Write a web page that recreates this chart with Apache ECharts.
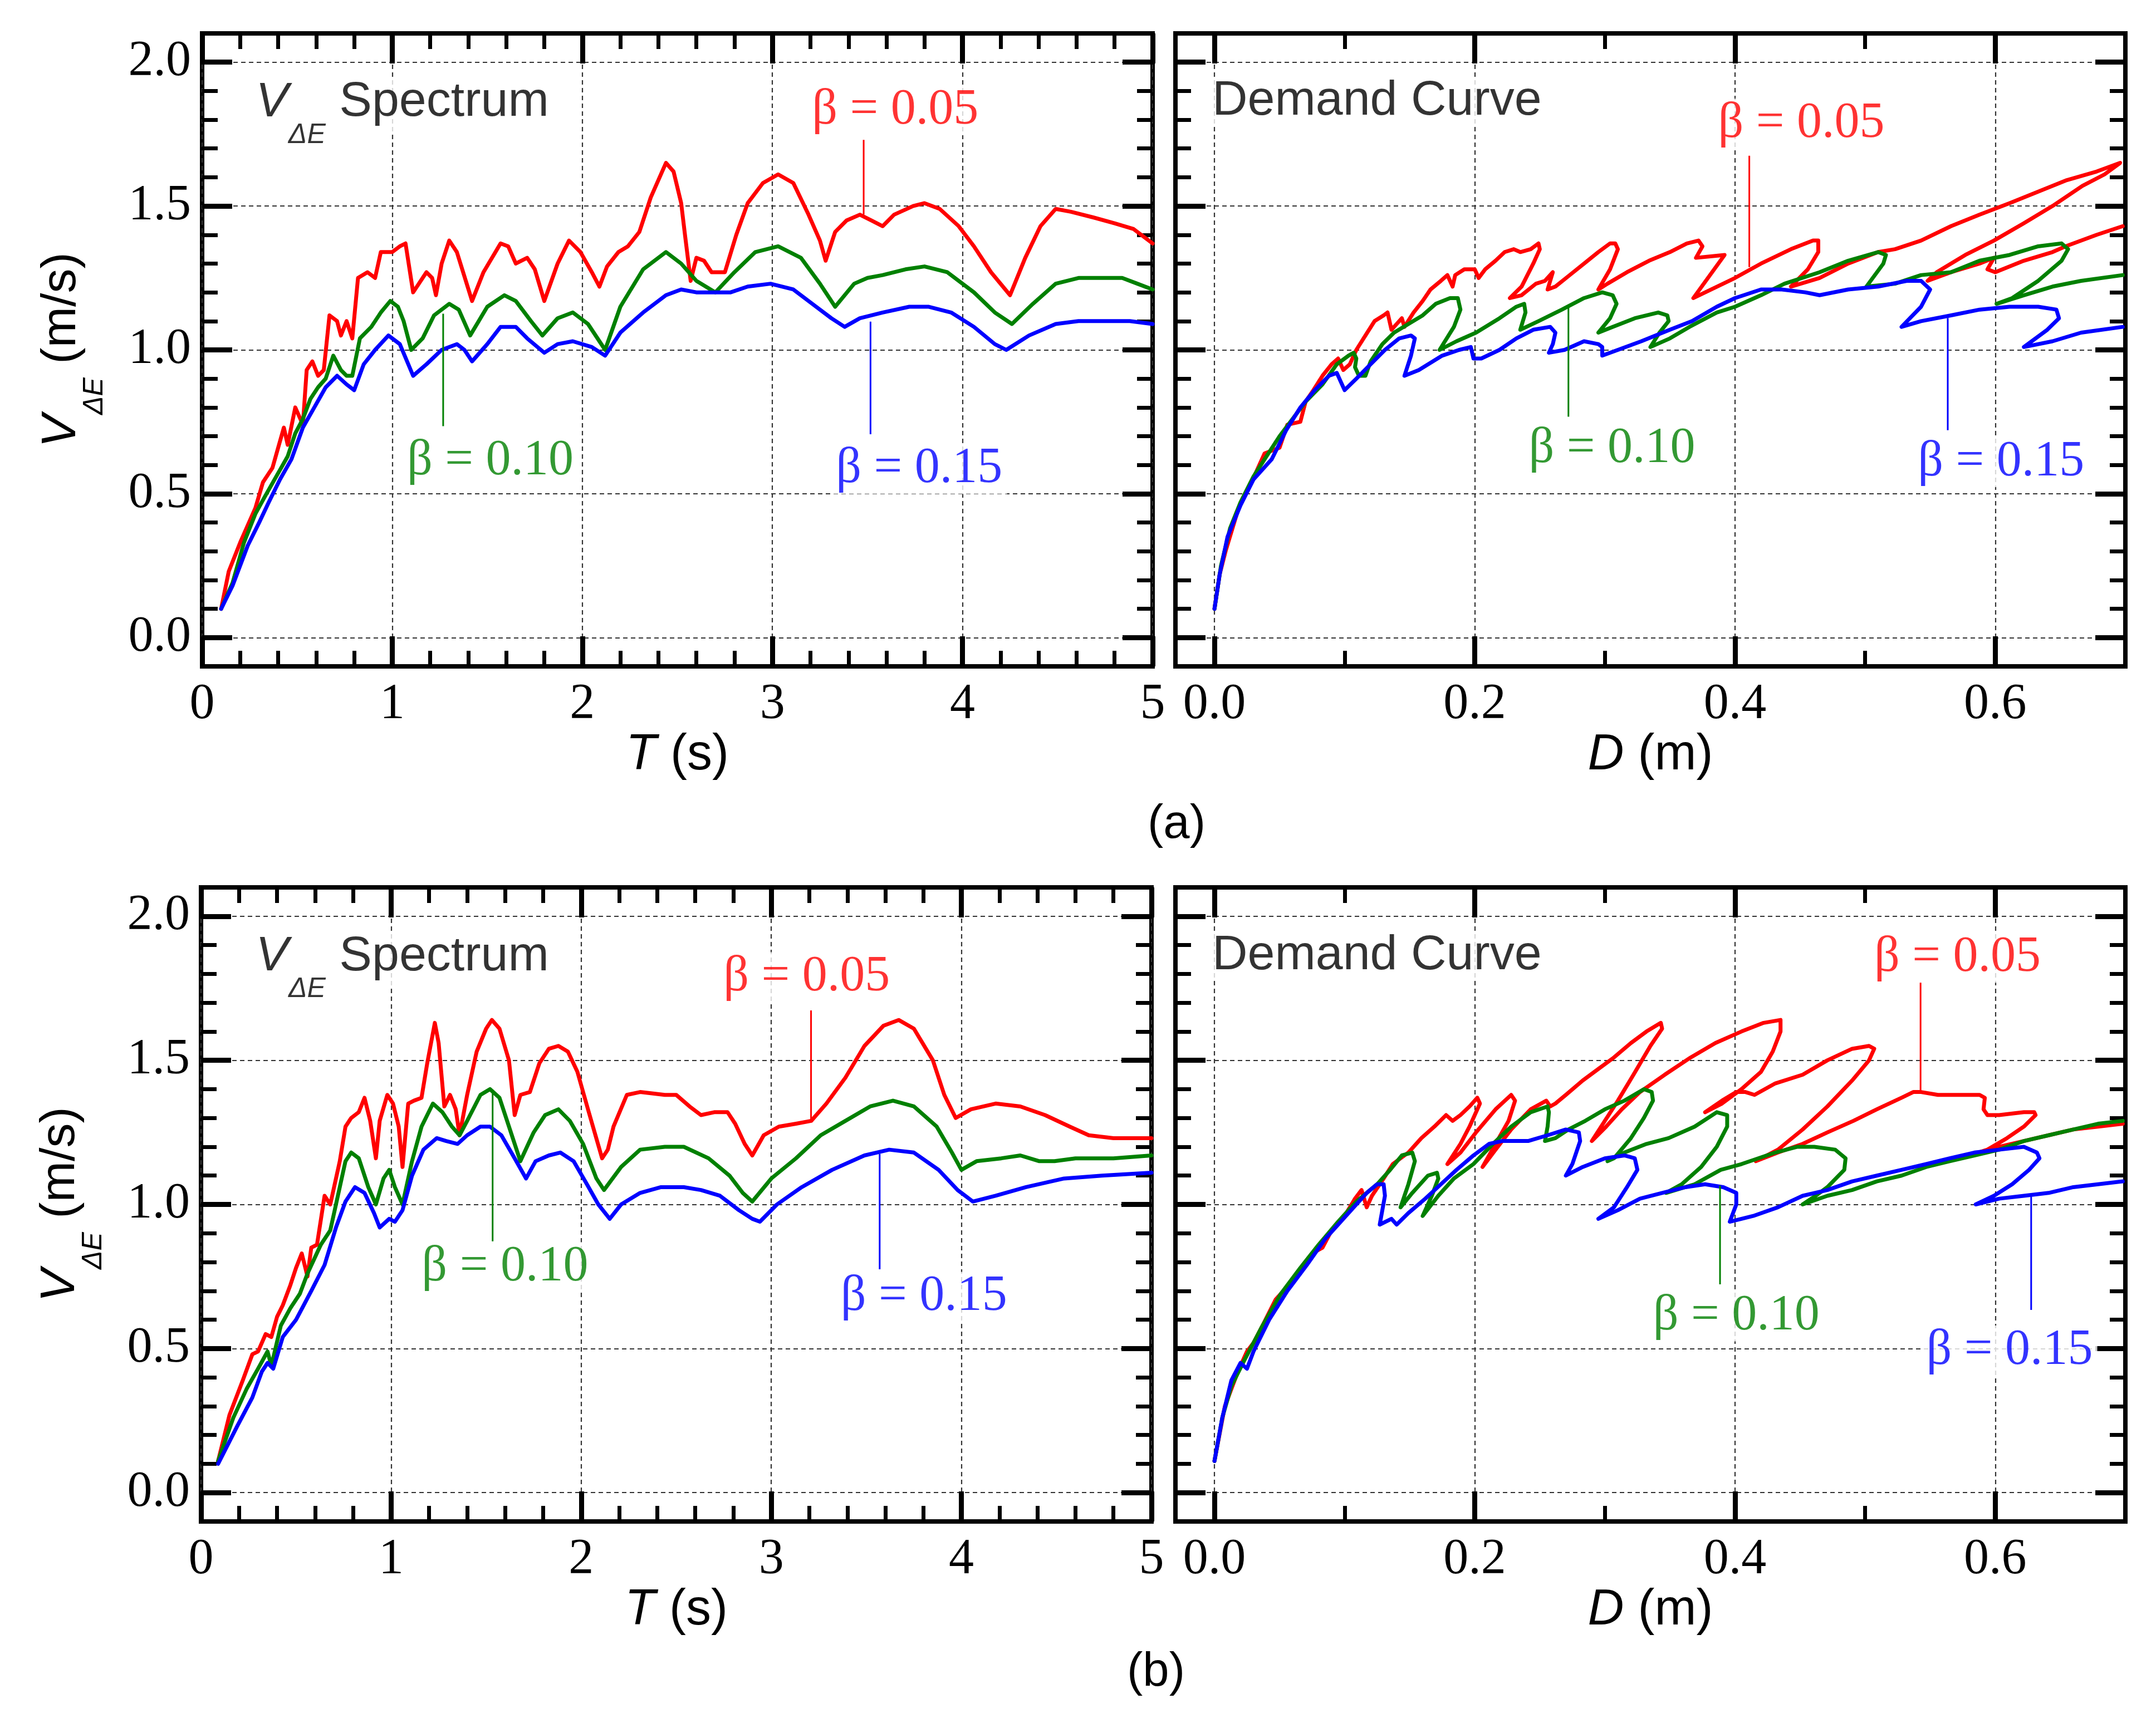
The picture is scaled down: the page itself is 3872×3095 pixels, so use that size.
<!DOCTYPE html>
<html><head><meta charset="utf-8">
<script src="https://cdn.jsdelivr.net/npm/echarts@6/dist/echarts.min.js"></script>
<style>html,body{margin:0;padding:0;background:#fff}#c{width:3872px;height:3095px}</style>
</head><body><div id="c"></div>
<script>
// ---------------- DATA ----------------
// (a) V_dE spectrum: [T (s), V (m/s)]
const tl05 = [[0.10,0.10],[0.14,0.23],[0.20,0.33],[0.28,0.45],[0.32,0.54],[0.37,0.59],[0.43,0.73],[0.45,0.67],[0.49,0.80],[0.53,0.74],[0.55,0.93],[0.58,0.96],[0.61,0.91],[0.64,0.93],[0.67,1.12],[0.71,1.10],[0.73,1.05],[0.76,1.10],[0.79,1.04],[0.82,1.25],[0.87,1.27],[0.91,1.25],[0.94,1.34],[1.00,1.34],[1.04,1.36],[1.07,1.37],[1.11,1.20],[1.14,1.23],[1.18,1.27],[1.21,1.25],[1.23,1.19],[1.26,1.30],[1.30,1.38],[1.34,1.34],[1.42,1.17],[1.48,1.27],[1.57,1.37],[1.61,1.36],[1.65,1.30],[1.71,1.32],[1.75,1.28],[1.80,1.17],[1.87,1.30],[1.93,1.38],[1.99,1.34],[2.05,1.27],[2.09,1.22],[2.13,1.29],[2.19,1.34],[2.24,1.36],[2.30,1.41],[2.36,1.53],[2.44,1.65],[2.48,1.62],[2.52,1.51],[2.54,1.40],[2.57,1.24],[2.60,1.32],[2.64,1.31],[2.68,1.27],[2.72,1.27],[2.75,1.27],[2.81,1.40],[2.87,1.51],[2.95,1.58],[3.03,1.61],[3.11,1.58],[3.19,1.47],[3.25,1.38],[3.28,1.31],[3.33,1.41],[3.39,1.45],[3.46,1.47],[3.52,1.45],[3.58,1.43],[3.64,1.47],[3.74,1.50],[3.80,1.51],[3.88,1.49],[3.98,1.43],[4.06,1.36],[4.15,1.27],[4.25,1.19],[4.33,1.32],[4.41,1.43],[4.49,1.49],[4.57,1.48],[4.69,1.46],[4.80,1.44],[4.90,1.42],[5.00,1.37]];
const tl10 = [[0.10,0.10],[0.16,0.19],[0.22,0.33],[0.28,0.43],[0.33,0.49],[0.39,0.56],[0.45,0.63],[0.49,0.71],[0.53,0.76],[0.57,0.83],[0.61,0.87],[0.65,0.90],[0.69,0.98],[0.73,0.93],[0.76,0.91],[0.79,0.91],[0.83,1.04],[0.89,1.08],[0.94,1.13],[0.99,1.17],[1.03,1.15],[1.06,1.10],[1.10,1.00],[1.16,1.04],[1.22,1.12],[1.30,1.16],[1.35,1.14],[1.41,1.05],[1.50,1.15],[1.59,1.19],[1.65,1.17],[1.73,1.10],[1.79,1.05],[1.87,1.11],[1.95,1.13],[2.03,1.09],[2.12,1.00],[2.20,1.15],[2.32,1.28],[2.44,1.34],[2.52,1.30],[2.60,1.24],[2.70,1.20],[2.80,1.27],[2.91,1.34],[3.03,1.36],[3.15,1.32],[3.25,1.23],[3.33,1.15],[3.43,1.23],[3.50,1.25],[3.58,1.26],[3.70,1.28],[3.80,1.29],[3.92,1.27],[4.06,1.20],[4.17,1.13],[4.26,1.09],[4.37,1.16],[4.49,1.23],[4.61,1.25],[4.72,1.25],[4.84,1.25],[4.92,1.23],[5.00,1.21]];
const tl15 = [[0.10,0.10],[0.16,0.18],[0.24,0.32],[0.30,0.40],[0.35,0.47],[0.41,0.55],[0.47,0.62],[0.53,0.73],[0.59,0.80],[0.65,0.87],[0.71,0.91],[0.76,0.88],[0.80,0.86],[0.85,0.95],[0.91,1.00],[0.98,1.05],[1.04,1.02],[1.11,0.91],[1.18,0.95],[1.26,1.00],[1.34,1.02],[1.38,1.00],[1.42,0.96],[1.50,1.02],[1.57,1.08],[1.65,1.08],[1.71,1.04],[1.80,0.99],[1.87,1.02],[1.95,1.03],[2.05,1.01],[2.12,0.98],[2.20,1.06],[2.32,1.13],[2.44,1.19],[2.52,1.21],[2.60,1.20],[2.68,1.20],[2.78,1.20],[2.87,1.22],[2.99,1.23],[3.11,1.21],[3.23,1.15],[3.31,1.11],[3.38,1.08],[3.46,1.11],[3.58,1.13],[3.72,1.15],[3.82,1.15],[3.94,1.13],[4.06,1.08],[4.17,1.02],[4.23,1.00],[4.35,1.05],[4.49,1.09],[4.61,1.10],[4.76,1.10],[4.88,1.10],[5.00,1.09]];
// (a) demand curves: [D (m), V (m/s)]
const tr05 = [[0.000,0.10],[0.004,0.22],[0.0085,0.30],[0.0185,0.45],[0.0285,0.54],[0.0385,0.64],[0.050,0.66],[0.056,0.74],[0.066,0.75],[0.070,0.82],[0.076,0.86],[0.083,0.91],[0.090,0.95],[0.095,0.97],[0.099,0.93],[0.104,0.95],[0.109,1.00],[0.116,1.05],[0.123,1.10],[0.130,1.12],[0.133,1.13],[0.136,1.07],[0.140,1.09],[0.144,1.11],[0.146,1.08],[0.153,1.13],[0.160,1.17],[0.166,1.21],[0.174,1.24],[0.179,1.26],[0.183,1.22],[0.185,1.26],[0.192,1.28],[0.200,1.28],[0.203,1.25],[0.208,1.28],[0.216,1.31],[0.223,1.34],[0.230,1.35],[0.235,1.34],[0.243,1.35],[0.249,1.37],[0.250,1.35],[0.245,1.30],[0.236,1.22],[0.227,1.18],[0.236,1.19],[0.247,1.23],[0.254,1.24],[0.260,1.27],[0.256,1.21],[0.262,1.22],[0.273,1.26],[0.284,1.30],[0.295,1.34],[0.304,1.37],[0.308,1.37],[0.310,1.35],[0.304,1.28],[0.295,1.21],[0.302,1.23],[0.317,1.27],[0.334,1.31],[0.350,1.34],[0.363,1.37],[0.372,1.38],[0.375,1.36],[0.370,1.32],[0.392,1.33],[0.368,1.18],[0.400,1.25],[0.420,1.30],[0.443,1.35],[0.460,1.38],[0.464,1.38],[0.464,1.34],[0.456,1.28],[0.443,1.22],[0.465,1.25],[0.487,1.30],[0.510,1.34],[0.523,1.35],[0.543,1.38],[0.566,1.43],[0.588,1.47],[0.611,1.51],[0.633,1.55],[0.655,1.59],[0.678,1.62],[0.696,1.65],[0.684,1.61],[0.667,1.57],[0.644,1.50],[0.622,1.44],[0.599,1.38],[0.577,1.33],[0.555,1.27],[0.548,1.24],[0.566,1.27],[0.588,1.30],[0.599,1.32],[0.594,1.28],[0.600,1.27],[0.622,1.31],[0.644,1.34],[0.654,1.36],[0.678,1.40],[0.698,1.43]];
const tr10 = [[0.000,0.10],[0.005,0.25],[0.012,0.38],[0.020,0.47],[0.030,0.56],[0.040,0.63],[0.050,0.70],[0.060,0.76],[0.070,0.82],[0.083,0.88],[0.094,0.95],[0.103,0.98],[0.107,0.99],[0.109,0.97],[0.108,0.94],[0.111,0.91],[0.116,0.91],[0.120,0.96],[0.129,1.02],[0.138,1.06],[0.149,1.09],[0.160,1.12],[0.170,1.16],[0.181,1.18],[0.187,1.18],[0.189,1.14],[0.184,1.08],[0.173,1.00],[0.186,1.03],[0.201,1.06],[0.219,1.11],[0.232,1.15],[0.238,1.16],[0.239,1.13],[0.235,1.07],[0.249,1.10],[0.267,1.14],[0.284,1.18],[0.298,1.20],[0.306,1.19],[0.309,1.16],[0.304,1.11],[0.295,1.06],[0.306,1.08],[0.323,1.11],[0.341,1.13],[0.348,1.12],[0.349,1.10],[0.342,1.06],[0.335,1.01],[0.350,1.04],[0.365,1.08],[0.386,1.13],[0.400,1.15],[0.420,1.19],[0.438,1.23],[0.465,1.27],[0.487,1.31],[0.510,1.34],[0.516,1.33],[0.514,1.30],[0.501,1.22],[0.523,1.23],[0.543,1.26],[0.566,1.27],[0.588,1.31],[0.611,1.33],[0.633,1.36],[0.651,1.37],[0.656,1.35],[0.651,1.31],[0.633,1.24],[0.613,1.18],[0.601,1.16],[0.622,1.19],[0.644,1.22],[0.666,1.24],[0.698,1.26]];
const tr15 = [[0.000,0.10],[0.004,0.22],[0.010,0.35],[0.020,0.46],[0.030,0.55],[0.044,0.62],[0.055,0.72],[0.066,0.80],[0.077,0.86],[0.088,0.91],[0.094,0.92],[0.097,0.89],[0.100,0.86],[0.109,0.90],[0.120,0.95],[0.131,1.00],[0.142,1.04],[0.151,1.05],[0.154,1.04],[0.151,0.98],[0.146,0.91],[0.157,0.93],[0.175,0.98],[0.188,1.00],[0.197,1.01],[0.199,0.97],[0.205,0.97],[0.219,1.00],[0.232,1.04],[0.245,1.07],[0.258,1.08],[0.262,1.06],[0.260,1.02],[0.257,0.99],[0.269,1.00],[0.284,1.03],[0.295,1.02],[0.298,1.01],[0.298,0.98],[0.310,1.00],[0.328,1.03],[0.350,1.07],[0.367,1.10],[0.386,1.15],[0.400,1.18],[0.420,1.21],[0.436,1.21],[0.454,1.20],[0.465,1.19],[0.487,1.21],[0.510,1.22],[0.532,1.24],[0.543,1.24],[0.550,1.21],[0.543,1.15],[0.528,1.08],[0.543,1.10],[0.566,1.12],[0.588,1.14],[0.611,1.15],[0.633,1.15],[0.647,1.14],[0.649,1.11],[0.640,1.07],[0.622,1.01],[0.644,1.03],[0.666,1.06],[0.698,1.08]];
// (b) V_dE spectrum
const bl05 = [[0.09,0.11],[0.15,0.27],[0.22,0.39],[0.27,0.48],[0.30,0.49],[0.34,0.55],[0.37,0.54],[0.40,0.61],[0.43,0.65],[0.47,0.72],[0.50,0.78],[0.53,0.83],[0.56,0.75],[0.58,0.85],[0.61,0.86],[0.65,1.03],[0.68,1.00],[0.73,1.15],[0.76,1.27],[0.79,1.30],[0.83,1.32],[0.86,1.37],[0.89,1.29],[0.92,1.16],[0.94,1.29],[0.98,1.38],[1.01,1.35],[1.04,1.27],[1.06,1.13],[1.09,1.35],[1.12,1.36],[1.16,1.37],[1.19,1.49],[1.23,1.63],[1.25,1.56],[1.28,1.34],[1.31,1.38],[1.34,1.33],[1.36,1.24],[1.40,1.38],[1.45,1.53],[1.50,1.61],[1.53,1.64],[1.57,1.61],[1.62,1.50],[1.65,1.31],[1.68,1.38],[1.73,1.39],[1.78,1.49],[1.83,1.54],[1.88,1.55],[1.93,1.53],[1.98,1.46],[2.04,1.32],[2.11,1.16],[2.14,1.19],[2.17,1.27],[2.24,1.38],[2.31,1.39],[2.44,1.38],[2.50,1.38],[2.57,1.34],[2.63,1.31],[2.70,1.32],[2.77,1.32],[2.81,1.28],[2.86,1.21],[2.90,1.17],[2.96,1.24],[3.04,1.27],[3.13,1.28],[3.21,1.29],[3.29,1.35],[3.39,1.44],[3.49,1.55],[3.59,1.62],[3.67,1.64],[3.75,1.61],[3.85,1.50],[3.91,1.38],[3.97,1.30],[4.05,1.33],[4.18,1.35],[4.31,1.34],[4.44,1.31],[4.57,1.27],[4.67,1.24],[4.80,1.23],[5.00,1.23]];
const bl10 = [[0.09,0.11],[0.17,0.26],[0.24,0.36],[0.30,0.43],[0.35,0.49],[0.37,0.44],[0.42,0.58],[0.47,0.64],[0.52,0.69],[0.56,0.76],[0.63,0.86],[0.68,0.91],[0.71,1.00],[0.76,1.15],[0.79,1.18],[0.83,1.16],[0.88,1.06],[0.92,1.00],[0.96,1.09],[0.99,1.12],[1.02,1.06],[1.06,1.00],[1.11,1.15],[1.16,1.27],[1.22,1.35],[1.27,1.32],[1.32,1.27],[1.36,1.24],[1.40,1.29],[1.47,1.38],[1.52,1.40],[1.57,1.37],[1.62,1.27],[1.68,1.15],[1.75,1.25],[1.81,1.31],[1.88,1.33],[1.94,1.29],[2.01,1.21],[2.08,1.09],[2.12,1.05],[2.21,1.13],[2.31,1.19],[2.44,1.20],[2.54,1.20],[2.67,1.16],[2.78,1.10],[2.85,1.04],[2.90,1.01],[3.00,1.09],[3.13,1.16],[3.26,1.24],[3.39,1.29],[3.52,1.34],[3.64,1.36],[3.75,1.34],[3.87,1.27],[3.95,1.18],[4.00,1.12],[4.08,1.15],[4.21,1.16],[4.31,1.17],[4.41,1.15],[4.49,1.15],[4.60,1.16],[4.80,1.16],[5.00,1.17]];
const bl15 = [[0.09,0.10],[0.19,0.23],[0.27,0.33],[0.32,0.42],[0.35,0.45],[0.38,0.43],[0.43,0.54],[0.50,0.60],[0.58,0.70],[0.65,0.79],[0.71,0.92],[0.76,1.01],[0.81,1.06],[0.86,1.04],[0.91,0.97],[0.94,0.92],[0.99,0.95],[1.02,0.94],[1.06,0.98],[1.11,1.10],[1.17,1.19],[1.24,1.23],[1.29,1.22],[1.35,1.21],[1.40,1.24],[1.47,1.27],[1.52,1.27],[1.58,1.24],[1.65,1.16],[1.71,1.09],[1.76,1.15],[1.83,1.17],[1.89,1.18],[1.96,1.15],[2.03,1.07],[2.09,1.00],[2.15,0.95],[2.21,1.00],[2.31,1.04],[2.42,1.06],[2.54,1.06],[2.63,1.05],[2.73,1.03],[2.83,0.98],[2.90,0.95],[2.94,0.94],[3.03,1.00],[3.16,1.06],[3.32,1.12],[3.49,1.17],[3.62,1.19],[3.75,1.18],[3.88,1.12],[3.98,1.05],[4.06,1.01],[4.18,1.03],[4.34,1.06],[4.54,1.09],[4.74,1.10],[5.00,1.11]];
// (b) demand curves
const br05 = [[0.000,0.11],[0.008,0.30],[0.018,0.42],[0.025,0.49],[0.030,0.52],[0.037,0.58],[0.047,0.67],[0.059,0.73],[0.068,0.79],[0.075,0.83],[0.083,0.85],[0.090,0.91],[0.100,0.96],[0.108,1.02],[0.113,1.05],[0.117,0.99],[0.121,1.03],[0.130,1.09],[0.137,1.14],[0.149,1.18],[0.159,1.23],[0.169,1.27],[0.178,1.31],[0.183,1.29],[0.189,1.31],[0.196,1.34],[0.202,1.37],[0.204,1.35],[0.196,1.27],[0.189,1.21],[0.179,1.14],[0.189,1.18],[0.201,1.25],[0.216,1.33],[0.228,1.38],[0.231,1.36],[0.226,1.29],[0.216,1.21],[0.206,1.13],[0.216,1.19],[0.228,1.26],[0.243,1.33],[0.255,1.36],[0.258,1.34],[0.262,1.35],[0.270,1.38],[0.283,1.43],[0.295,1.47],[0.307,1.51],[0.320,1.56],[0.332,1.60],[0.343,1.63],[0.344,1.61],[0.335,1.55],[0.322,1.45],[0.310,1.36],[0.300,1.29],[0.290,1.22],[0.301,1.27],[0.313,1.33],[0.327,1.39],[0.346,1.45],[0.366,1.51],[0.385,1.56],[0.405,1.60],[0.422,1.63],[0.435,1.64],[0.435,1.60],[0.429,1.53],[0.420,1.46],[0.405,1.40],[0.390,1.35],[0.377,1.32],[0.390,1.36],[0.401,1.39],[0.408,1.39],[0.415,1.38],[0.431,1.42],[0.452,1.45],[0.471,1.50],[0.490,1.54],[0.503,1.55],[0.507,1.54],[0.503,1.50],[0.490,1.43],[0.471,1.34],[0.452,1.26],[0.433,1.19],[0.416,1.15],[0.433,1.18],[0.452,1.21],[0.471,1.25],[0.491,1.29],[0.509,1.33],[0.528,1.37],[0.537,1.39],[0.543,1.39],[0.556,1.38],[0.575,1.38],[0.588,1.38],[0.592,1.37],[0.591,1.33],[0.594,1.31],[0.603,1.31],[0.622,1.32],[0.630,1.32],[0.631,1.31],[0.622,1.27],[0.609,1.23],[0.594,1.19],[0.587,1.18],[0.603,1.20],[0.622,1.22],[0.641,1.24],[0.660,1.26],[0.679,1.27],[0.698,1.28]];
const br10 = [[0.000,0.11],[0.006,0.26],[0.013,0.37],[0.023,0.46],[0.037,0.58],[0.051,0.69],[0.066,0.78],[0.080,0.86],[0.095,0.94],[0.109,1.01],[0.125,1.07],[0.135,1.12],[0.144,1.17],[0.152,1.18],[0.154,1.15],[0.149,1.07],[0.143,0.99],[0.152,1.04],[0.164,1.10],[0.171,1.11],[0.172,1.09],[0.167,1.03],[0.160,0.96],[0.172,1.03],[0.184,1.09],[0.199,1.14],[0.214,1.21],[0.228,1.27],[0.243,1.32],[0.256,1.34],[0.257,1.32],[0.256,1.27],[0.254,1.22],[0.262,1.23],[0.272,1.26],[0.285,1.29],[0.300,1.33],[0.315,1.36],[0.330,1.40],[0.336,1.39],[0.337,1.36],[0.330,1.30],[0.320,1.23],[0.307,1.16],[0.302,1.15],[0.315,1.18],[0.332,1.21],[0.349,1.23],[0.369,1.27],[0.386,1.32],[0.394,1.31],[0.394,1.27],[0.386,1.20],[0.374,1.13],[0.359,1.07],[0.347,1.04],[0.369,1.07],[0.389,1.12],[0.405,1.14],[0.431,1.18],[0.448,1.20],[0.461,1.20],[0.477,1.19],[0.485,1.16],[0.484,1.12],[0.471,1.06],[0.462,1.03],[0.452,1.00],[0.471,1.03],[0.490,1.05],[0.509,1.08],[0.528,1.10],[0.547,1.13],[0.565,1.15],[0.584,1.17],[0.603,1.19],[0.622,1.22],[0.641,1.24],[0.660,1.26],[0.679,1.28],[0.698,1.29]];
const br15 = [[0.000,0.11],[0.006,0.26],[0.013,0.39],[0.020,0.45],[0.025,0.43],[0.030,0.49],[0.042,0.60],[0.056,0.70],[0.071,0.79],[0.085,0.88],[0.099,0.95],[0.107,0.99],[0.117,1.04],[0.125,1.07],[0.130,1.07],[0.131,1.03],[0.127,0.93],[0.136,0.95],[0.140,0.93],[0.149,0.97],[0.162,1.02],[0.174,1.07],[0.186,1.12],[0.199,1.17],[0.211,1.21],[0.221,1.22],[0.231,1.22],[0.241,1.22],[0.256,1.24],[0.270,1.26],[0.280,1.25],[0.281,1.22],[0.275,1.14],[0.270,1.10],[0.283,1.13],[0.300,1.16],[0.315,1.17],[0.323,1.16],[0.325,1.12],[0.317,1.06],[0.307,0.99],[0.295,0.95],[0.310,0.98],[0.327,1.02],[0.344,1.04],[0.362,1.06],[0.377,1.07],[0.391,1.06],[0.401,1.04],[0.401,1.00],[0.396,0.94],[0.414,0.96],[0.433,0.99],[0.452,1.03],[0.471,1.05],[0.490,1.08],[0.509,1.10],[0.528,1.12],[0.547,1.14],[0.565,1.16],[0.584,1.18],[0.603,1.19],[0.622,1.20],[0.632,1.18],[0.634,1.16],[0.626,1.12],[0.613,1.07],[0.599,1.03],[0.585,1.00],[0.603,1.02],[0.622,1.03],[0.641,1.04],[0.660,1.06],[0.679,1.07],[0.698,1.08]];

// tick values
const tMajor = [0,1,2,3,4,5];
const tMinor = [0.2,0.4,0.6,0.8,1.2,1.4,1.6,1.8,2.2,2.4,2.6,2.8,3.2,3.4,3.6,3.8,4.2,4.4,4.6,4.8];
const dMajor = [0,0.2,0.4,0.6];
const dMinor = [0.1,0.3,0.5];
const vMajor = [0,0.5,1,1.5,2];
const vMinor = [0.1,0.2,0.3,0.4,0.6,0.7,0.8,0.9,1.1,1.2,1.3,1.4,1.6,1.7,1.8,1.9];

// annotations (data coordinates)
const betaText = ['β = 0.05','β = 0.10','β = 0.15'];
const lblTL = [[3.646,1.833],[1.516,0.614],[3.772,0.586]];
const ldrTL = [[3.48,1.73,1.47],[1.268,1.126,0.735],[3.516,1.098,0.707]];
const lblTR = [[0.451,1.786],[0.3055,0.656],[0.6045,0.61]];
const ldrTR = [[0.411,1.675,1.288],[0.272,1.149,0.768],[0.5635,1.111,0.721]];
const lblBL = [[3.186,1.788],[1.599,0.782],[3.803,0.679]];
const ldrBL = [[3.209,1.673,1.287],[1.534,1.399,0.872],[3.57,1.176,0.775]];
const lblBR = [[0.571,1.856],[0.401,0.612],[0.611,0.493]];
const ldrBR = [[0.5426,1.77,1.384],[0.3885,1.065,0.723],[0.6276,1.027,0.634]];
const specPos = [[0.27,1.86],[0.276,1.86]];
const demandPos = [[-0.0035,1.864],[-0.0035,1.863]];

// ---------------- CHART ----------------
const SERIF = 'Liberation Serif', SANS = 'Liberation Sans';
const COLORS = ['#ff0000', '#008000', '#0000ff'];
const panels = [
  {rect:{left:363, top:60, width:1707, height:1137}, xr:[0,5], xMaj:tMajor, xMin:tMinor, xf:v=>String(v), xName:'{i|T} (s)', yName:true,
   curves:[tl05,tl10,tl15], lbl:lblTL, ldr:ldrTL, title:'spec', tpos:specPos[0]},
  {rect:{left:2111, top:60, width:1706, height:1137}, xr:[-0.03,0.7], xMaj:dMajor, xMin:dMinor, xf:v=>v.toFixed(1), xName:'{i|D} (m)', yName:false,
   curves:[tr05,tr10,tr15], lbl:lblTR, ldr:ldrTR, title:'demand', tpos:demandPos[0]},
  {rect:{left:361, top:1594, width:1707, height:1139}, xr:[0,5], xMaj:tMajor, xMin:tMinor, xf:v=>String(v), xName:'{i|T} (s)', yName:true,
   curves:[bl05,bl10,bl15], lbl:lblBL, ldr:ldrBL, title:'spec', tpos:specPos[1]},
  {rect:{left:2111, top:1594, width:1706, height:1139}, xr:[-0.03,0.7], xMaj:dMajor, xMin:dMinor, xf:v=>v.toFixed(1), xName:'{i|D} (m)', yName:false,
   curves:[br05,br10,br15], lbl:lblBR, ldr:ldrBR, title:'demand', tpos:demandPos[1]}
];

const grid = [], xAxis = [], yAxis = [], series = [];
const tickLine = w => ({color:'#000', width:w});
const noLine = {show:false, onZero:false};
const split = {show:true, lineStyle:{type:[8,6], width:2.2, color:'#333'}};
const MAJ = 54, MIN = 28, MAJW = 9, MINW = 7;

panels.forEach((p, i) => {
  const gMain = grid.length;
  grid.push(Object.assign({show:true, borderColor:'#000', borderWidth:8, backgroundColor:'rgba(0,0,0,0)', containLabel:false}, p.rect));
  const gOver = grid.length;
  grid.push(Object.assign({show:false, containLabel:false}, p.rect));
  const xi = xAxis.length, yi = yAxis.length;
  xAxis.push({type:'value', gridIndex:gMain, position:'bottom', min:p.xr[0], max:p.xr[1],
    axisLine:noLine,
    axisTick:{show:true, inside:true, length:MAJ, customValues:p.xMaj, lineStyle:tickLine(MAJW)},
    axisLabel:{show:true, customValues:p.xMaj, formatter:p.xf, margin:24, fontFamily:SERIF, fontSize:90, color:'#000'},
    splitLine:split,
    name:p.xName, nameLocation:'middle', nameGap:112,
    nameTextStyle:{fontFamily:SANS, fontSize:90, color:'#000', rich:{i:{fontFamily:SANS, fontSize:90, fontStyle:'italic', color:'#000'}}}
  });
  xAxis.push({type:'value', gridIndex:gMain, position:'top', min:p.xr[0], max:p.xr[1],
    axisLine:noLine, axisTick:{show:true, inside:true, length:MAJ, customValues:p.xMaj, lineStyle:tickLine(MAJW)},
    axisLabel:{show:false}, splitLine:{show:false}});
  xAxis.push({type:'value', gridIndex:gOver, position:'bottom', min:p.xr[0], max:p.xr[1],
    axisLine:noLine, axisTick:{show:true, inside:true, length:MIN, customValues:p.xMin, lineStyle:tickLine(MINW)},
    axisLabel:{show:false}, splitLine:{show:false}});
  xAxis.push({type:'value', gridIndex:gOver, position:'top', min:p.xr[0], max:p.xr[1],
    axisLine:noLine, axisTick:{show:true, inside:true, length:MIN, customValues:p.xMin, lineStyle:tickLine(MINW)},
    axisLabel:{show:false}, splitLine:{show:false}});
  const yMain = {type:'value', gridIndex:gMain, position:'left', min:-0.1, max:2.1,
    axisLine:noLine,
    axisTick:{show:true, inside:true, length:MAJ, customValues:vMajor, lineStyle:tickLine(MAJW)},
    axisLabel:{show:p.yName, customValues:vMajor, formatter:v=>v.toFixed(1), margin:20, fontFamily:SERIF, fontSize:90, color:'#000'},
    splitLine:split};
  if (p.yName) {
    Object.assign(yMain, {name:'{v|V}{s|ΔE}{n| (m/s)}', nameLocation:'middle', nameGap:196, nameRotate:90,
      nameTextStyle:{color:'#000', rich:{
        v:{fontFamily:SANS, fontSize:88, fontStyle:'italic', lineHeight:100, verticalAlign:'top', color:'#000'},
        s:{fontFamily:SANS, fontSize:50, fontStyle:'italic', lineHeight:50, padding:[78,0,0,0], verticalAlign:'top', color:'#000'},
        n:{fontFamily:SANS, fontSize:88, lineHeight:100, verticalAlign:'top', color:'#000'}}}});
  }
  yAxis.push(yMain);
  yAxis.push({type:'value', gridIndex:gMain, position:'right', min:-0.1, max:2.1,
    axisLine:noLine, axisTick:{show:true, inside:true, length:MAJ, customValues:vMajor, lineStyle:tickLine(MAJW)},
    axisLabel:{show:false}, splitLine:{show:false}});
  yAxis.push({type:'value', gridIndex:gOver, position:'left', min:-0.1, max:2.1,
    axisLine:noLine, axisTick:{show:true, inside:true, length:MIN, customValues:vMinor, lineStyle:tickLine(MINW)},
    axisLabel:{show:false}, splitLine:{show:false}});
  yAxis.push({type:'value', gridIndex:gOver, position:'right', min:-0.1, max:2.1,
    axisLine:noLine, axisTick:{show:true, inside:true, length:MIN, customValues:vMinor, lineStyle:tickLine(MINW)},
    axisLabel:{show:false}, splitLine:{show:false}});

  p.curves.forEach((c, k) => {
    series.push({type:'line', xAxisIndex:xi, yAxisIndex:yi, data:c, symbol:'none', showSymbol:false,
      lineStyle:{color:COLORS[k], width:7, join:'round', cap:'round'}, itemStyle:{color:COLORS[k]}, z:3+k*0.1, clip:true, silent:true});
  });
  p.ldr.forEach((l, k) => {
    series.push({type:'line', xAxisIndex:xi, yAxisIndex:yi, data:[[l[0],l[1]],[l[0],l[2]]], symbol:'none',
      lineStyle:{color:COLORS[k], width:3}, z:4, silent:true});
  });
  p.lbl.forEach((l, k) => {
    series.push({type:'scatter', xAxisIndex:xi, yAxisIndex:yi, data:[l], symbolSize:1, itemStyle:{color:'rgba(0,0,0,0)'}, z:5, silent:true,
      label:{show:true, formatter:betaText[k], position:'inside', align:'center', verticalAlign:'middle',
        fontFamily:SERIF, fontSize:90, color:COLORS[k], backgroundColor:'#fff', padding:[0,8]}});
  });
  if (p.title === 'spec') {
    series.push({type:'scatter', xAxisIndex:xi, yAxisIndex:yi, data:[p.tpos], symbolSize:1, itemStyle:{color:'rgba(0,0,0,0)'}, z:5, silent:true,
      label:{show:true, formatter:'{v|V}{s|ΔE}{t| Spectrum}', position:'inside', align:'left', verticalAlign:'top', offset:[0,-44],
        backgroundColor:'#fff', padding:[0,4],
        rich:{
          v:{fontFamily:SANS, fontSize:88, fontStyle:'italic', lineHeight:100, verticalAlign:'top', color:'#000'},
          s:{fontFamily:SANS, fontSize:50, fontStyle:'italic', lineHeight:50, padding:[78,0,0,0], verticalAlign:'top', color:'#000'},
          t:{fontFamily:SANS, fontSize:88, lineHeight:100, verticalAlign:'top', color:'#000'}}}});
  } else {
    series.push({type:'scatter', xAxisIndex:xi, yAxisIndex:yi, data:[p.tpos], symbolSize:1, itemStyle:{color:'rgba(0,0,0,0)'}, z:5, silent:true,
      label:{show:true, formatter:'Demand Curve', position:'inside', align:'left', verticalAlign:'middle',
        fontFamily:SANS, fontSize:88, color:'#000', backgroundColor:'#fff', padding:[0,4]}});
  }
});

const chart = echarts.init(document.getElementById('c'), null, {renderer:'canvas', width:3872, height:3095});
chart.setOption({
  animation:false,
  backgroundColor:'#fff',
  grid, xAxis, yAxis, series,
  graphic:[
    {type:'text', x:2113, y:1482, style:{text:'(a)', font:'85px "Liberation Sans"', fill:'#000', textAlign:'center', textVerticalAlign:'middle'}},
    {type:'text', x:2076, y:3005, style:{text:'(b)', font:'85px "Liberation Sans"', fill:'#000', textAlign:'center', textVerticalAlign:'middle'}}
  ]
});
</script></body></html>
